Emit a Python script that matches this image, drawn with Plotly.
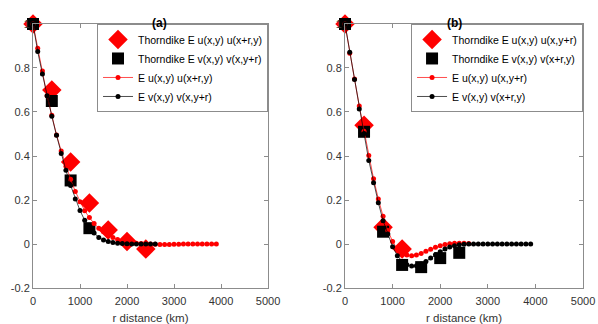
import plotly.graph_objects as go

# r distances (km)
r_a_u = list(range(0, 4000, 100))
r_a_v = list(range(0, 2700, 100))
r_b_u = list(range(0, 2700, 100))
r_b_v = list(range(0, 4000, 100))
r_thorn = [0, 400, 800, 1200, 1600, 2000, 2400]

# panel (a): E u(x,y) u(x+r,y) and E v(x,y) v(x,y+r)
a_u = [1.0, 0.89, 0.786, 0.674, 0.585, 0.496, 0.423, 0.354, 0.294, 0.239,
       0.192, 0.151, 0.12, 0.093, 0.072, 0.056, 0.04, 0.03, 0.021, 0.015,
       0.01, 0.007, 0.004, 0.002, 0.001, 0.0, -0.001, -0.002, -0.002, -0.002,
       -0.001, -0.001, 0.0, 0.0, 0.0, 0.0, 0.0, 0.0, 0.0, 0.0]
a_v = [1.0, 0.875, 0.773, 0.674, 0.581, 0.494, 0.411, 0.335, 0.266, 0.205,
       0.152, 0.108, 0.076, 0.05, 0.03, 0.018, 0.011, 0.007, 0.004, 0.002,
       0.001, 0.0, 0.0, 0.0, 0.0, 0.0, 0.0]
a_thorn_u = [1.0, 0.70, 0.373, 0.186, 0.064, 0.012, -0.023]
a_thorn_v = [1.0, 0.65, 0.289, 0.072]

# panel (b): E u(x,y) u(x,y+r) and E v(x,y) v(x+r,y)
b_u = [1.0, 0.867, 0.75, 0.627, 0.513, 0.402, 0.297, 0.205, 0.126, 0.061,
       0.012, -0.023, -0.043, -0.05, -0.053, -0.05, -0.043, -0.033, -0.024, -0.015,
       -0.008, -0.002, 0.001, 0.003, 0.003, 0.003, 0.002]
b_v = [1.0, 0.871, 0.748, 0.614, 0.502, 0.38, 0.278, 0.188, 0.106, 0.046,
       -0.012, -0.053, -0.079, -0.094, -0.1, -0.099, -0.091, -0.079, -0.064, -0.049,
       -0.035, -0.023, -0.014, -0.008, -0.003, -0.001, 0.0, 0.0, 0.0, 0.0,
       0.0, 0.0, 0.0, 0.0, 0.0, 0.0, 0.0, 0.0, 0.0, 0.0]
b_thorn_u = [1.0, 0.54, 0.076, -0.023]
b_thorn_v = [1.0, 0.51, 0.056, -0.095, -0.105, -0.064, -0.04]

FONT = "Liberation Sans, Arial, sans-serif"

fig = go.Figure()


def add_panel(xa, ya, leg, names, thorn_u, thorn_v, ru, u, rv, v):
    fig.add_trace(go.Scatter(x=r_thorn[:len(thorn_u)], y=thorn_u, mode="markers", name=names[0],
                             marker=dict(symbol="diamond", size=15, color="red"), cliponaxis=False,
                             xaxis=xa, yaxis=ya, legend=leg))
    fig.add_trace(go.Scatter(x=r_thorn[:len(thorn_v)], y=thorn_v, mode="markers", name=names[1],
                             marker=dict(symbol="square", size=12, color="black"), cliponaxis=False,
                             xaxis=xa, yaxis=ya, legend=leg))
    fig.add_trace(go.Scatter(x=ru, y=u, mode="lines+markers", name=names[2],
                             line=dict(color="red", width=0.7), cliponaxis=False,
                             marker=dict(size=5, color="red"),
                             xaxis=xa, yaxis=ya, legend=leg))
    fig.add_trace(go.Scatter(x=rv, y=v, mode="lines+markers", name=names[3],
                             line=dict(color="black", width=0.7), cliponaxis=False,
                             marker=dict(size=5, color="black"),
                             xaxis=xa, yaxis=ya, legend=leg))


add_panel("x", "y", "legend",
          ["Thorndike E u(x,y) u(x+r,y)", "Thorndike E v(x,y) v(x,y+r)",
           "E u(x,y) u(x+r,y)", "E v(x,y) v(x,y+r)"],
          a_thorn_u, a_thorn_v, r_a_u, a_u, r_a_v, a_v)
add_panel("x2", "y2", "legend2",
          ["Thorndike E u(x,y) u(x,y+r)", "Thorndike E v(x,y) v(x+r,y)",
           "E u(x,y) u(x,y+r)", "E v(x,y) v(x+r,y)"],
          b_thorn_u, b_thorn_v, r_b_u, b_u, r_b_v, b_v)

axis_style = dict(showgrid=False, zeroline=False, showline=True, linecolor="#8c8c8c",
                  linewidth=1, mirror="ticks", ticks="inside", ticklen=4, automargin=False,
                  tickcolor="#8c8c8c", tickfont=dict(family=FONT, size=11, color="#333333"))

xticks = [0, 1000, 2000, 3000, 4000, 5000]
yticks = [-0.2, 0, 0.2, 0.4, 0.6, 0.8, 1]
ytext = ["-0.2", "0", "0.2", "0.4", "0.6", "0.8", "1"]
xtitle = dict(text="r distance (km)", font=dict(family=FONT, size=11.5, color="#333333"), standoff=8)

legend_style = dict(bgcolor="white", bordercolor="#8c8c8c", borderwidth=1,
                    font=dict(family=FONT, size=10.5, color="black"),
                    xanchor="right", yanchor="top", tracegroupgap=0, itemwidth=30)

fig.update_layout(
    width=598, height=324,
    margin=dict(l=0, r=0, t=0, b=0),
    plot_bgcolor="white", paper_bgcolor="white",
    xaxis=dict(domain=[0.0552, 0.4482], range=[0, 5000], tickvals=xticks, title=xtitle,
               ticklabelstandoff=3, **axis_style),
    yaxis=dict(domain=[0.111, 0.926], range=[-0.2, 1], tickvals=yticks, ticktext=ytext, **axis_style),
    xaxis2=dict(domain=[0.5769, 0.975], range=[0, 5000], tickvals=xticks, anchor="y2",
                title=xtitle, ticklabelstandoff=3, **axis_style),
    yaxis2=dict(domain=[0.111, 0.926], range=[-0.2, 1], tickvals=yticks, ticktext=ytext,
                anchor="x2", **axis_style),
    legend=dict(x=0.4482, y=0.926, **legend_style),
    legend2=dict(x=0.975, y=0.926, **legend_style),
    annotations=[
        dict(text="<b>(a)</b>", x=0.2516, y=0.957, xref="paper", yref="paper", showarrow=False,
             font=dict(family=FONT, size=12, color="black")),
        dict(text="<b>(b)</b>", x=0.776, y=0.957, xref="paper", yref="paper", showarrow=False,
             font=dict(family=FONT, size=12, color="black")),
    ],
)

# the page body has a default 8px margin; drop it so the figure fills the window
fig.write_html("out.html", config={"displayModeBar": False},
               post_script="document.body.style.margin='0';")
